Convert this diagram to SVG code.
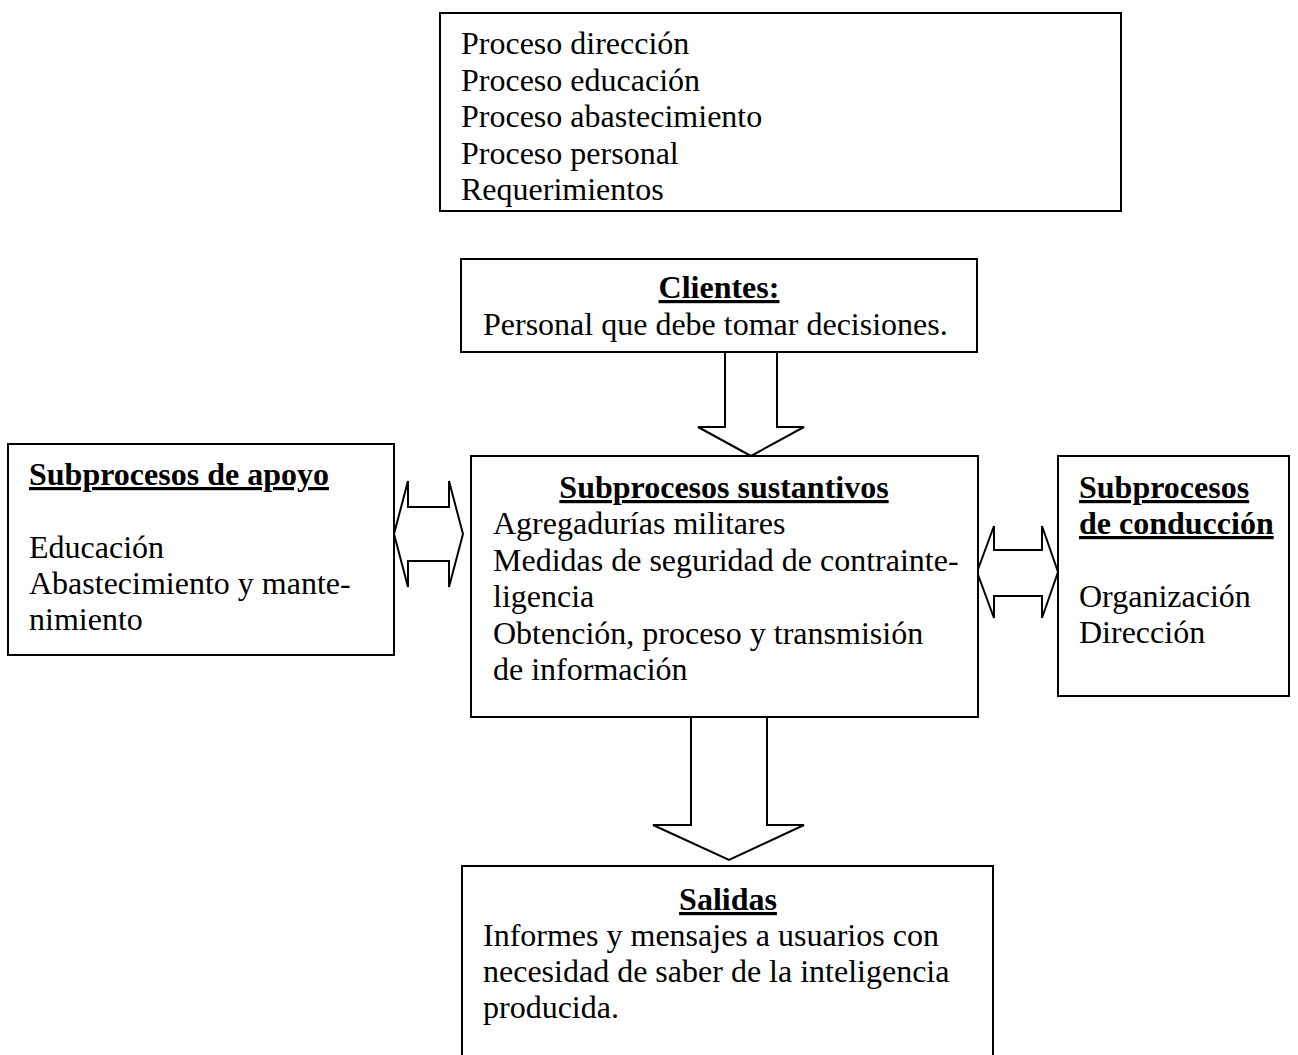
<svg xmlns="http://www.w3.org/2000/svg" width="1298" height="1055" viewBox="0 0 1298 1055">
<style>
.box{fill:#fff;stroke:#000;stroke-width:2}
.arr{fill:#fff;stroke:#000;stroke-width:2;stroke-linejoin:miter}
text{font-family:"Liberation Serif","Times New Roman",serif;font-size:32px;fill:#000}
.t{font-weight:bold;text-decoration:underline}
.c{text-anchor:middle}
</style>
<rect width="1298" height="1055" fill="#fff"/>
<g id="connectors">
<polygon class="arr" points="725,352 777,352 777,427 804,427 751,456 698,427 725,427"/>
<polygon class="arr" points="394,534 408,481 408,507 449,507 449,481 463,534 449,587 449,561 408,561 408,587"/>
<polygon class="arr" points="977,572 994,526 994,550 1042,550 1042,526 1058,572 1042,618 1042,596 994,596 994,618"/>
<polygon class="arr" points="691,717 767,717 767,825 804,825 729,860 653,825 691,825"/>
</g>
<g id="node-procesos">
<rect class="box" x="440" y="13" width="681" height="198"/>
<text x="461" y="54">Proceso dirección</text>
<text x="461" y="90.5">Proceso educación</text>
<text x="461" y="127">Proceso abastecimiento</text>
<text x="461" y="163.5">Proceso personal</text>
<text x="461" y="200">Requerimientos</text>
</g>
<g id="node-clientes">
<rect class="box" x="461" y="259" width="516" height="93"/>
<text class="t c" x="719" y="298">Clientes:</text>
<text x="483" y="335">Personal que debe tomar decisiones.</text>
</g>
<g id="node-apoyo">
<rect class="box" x="8" y="444" width="386" height="211"/>
<text class="t" x="29" y="485">Subprocesos de apoyo</text>
<text x="29" y="558">Educación</text>
<text x="29" y="594">Abastecimiento y mante-</text>
<text x="29" y="630">nimiento</text>
</g>
<g id="node-sustantivos">
<rect class="box" x="471" y="456" width="507" height="261"/>
<text class="t c" x="724" y="498">Subprocesos sustantivos</text>
<text x="493" y="534">Agregadurías militares</text>
<text x="493" y="571">Medidas de seguridad de contrainte-</text>
<text x="493" y="607">ligencia</text>
<text x="493" y="644">Obtención, proceso y transmisión</text>
<text x="493" y="680">de información</text>
</g>
<g id="node-conduccion">
<rect class="box" x="1058" y="456" width="231" height="240"/>
<text class="t" x="1079" y="498">Subprocesos</text>
<text class="t" x="1079" y="534">de conducción</text>
<text x="1079" y="607">Organización</text>
<text x="1079" y="643">Dirección</text>
</g>
<g id="node-salidas">
<rect class="box" x="462" y="866" width="531" height="200"/>
<text class="t c" x="728" y="910">Salidas</text>
<text x="483" y="946">Informes y mensajes a usuarios con</text>
<text x="483" y="982">necesidad de saber de la inteligencia</text>
<text x="483" y="1018">producida.</text>
</g>
</svg>
